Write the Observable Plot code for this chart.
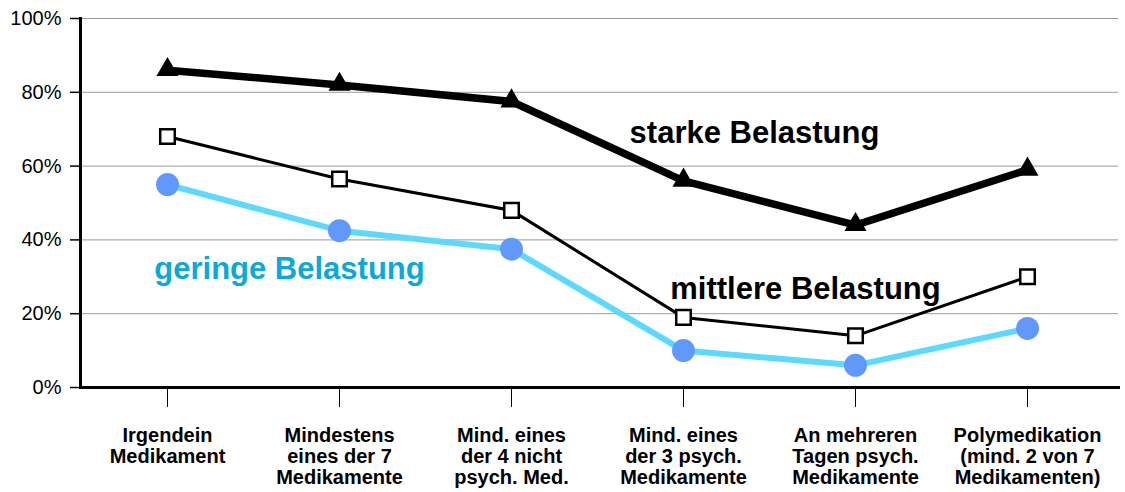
<!DOCTYPE html>
<html>
<head>
<meta charset="utf-8">
<script src="https://cdn.jsdelivr.net/npm/d3@7"></script>
<script src="https://cdn.jsdelivr.net/npm/@observablehq/plot@0.6"></script>
<style>
  html, body { margin: 0; padding: 0; background: #fff; }
  #chart svg { display: block; font-family: "Liberation Sans", Arial, sans-serif; }
</style>
</head>
<body>
<div id="chart"></div>
<script>
const categories = [
  "Irgendein\nMedikament",
  "Mindestens\neines der 7\nMedikamente",
  "Mind. eines\nder 4 nicht\npsych. Med.",
  "Mind. eines\nder 3 psych.\nMedikamente",
  "An mehreren\nTagen psych.\nMedikamente",
  "Polymedikation\n(mind. 2 von 7\nMedikamenten)"
];
const starke   = [86, 82, 77.5, 56, 44, 59];
const mittlere = [68, 56.5, 48, 19, 14, 30];
const geringe  = [55, 42.5, 37.5, 10, 6, 16];
const yTicks = [0, 20, 40, 60, 80, 100];
const seriesLabels = ["starke Belastung", "mittlere Belastung", "geringe Belastung"];

const toRows = (vals) => categories.map((c, i) => ({cat: c, v: vals[i]}));
const sRows = toRows(starke), mRows = toRows(mittlere), gRows = toRows(geringe);

const chart = Plot.plot({
  width: 1125,
  height: 492,
  marginLeft: 80,
  marginRight: 7,
  marginTop: 18,
  marginBottom: 105,
  style: {fontFamily: "'Liberation Sans', Arial, sans-serif", background: "#fff"},
  x: {type: "point", domain: categories, range: [165, 1028], padding: 0},
  y: {domain: [0, 100]},
  marks: [
    Plot.ruleY(yTicks.filter(d => d > 0), {stroke: "#9a9a9a", strokeWidth: 1}),
    Plot.axisY({ticks: yTicks, tickFormat: d => d + "%", tickSize: 10, tickPadding: 9,
      fontSize: 20, label: null, stroke: "#000", strokeWidth: 1.5, color: "#000"}),
    Plot.axisX({tickSize: 20, tickPadding: 19, fontSize: 20, fontWeight: "bold",
      lineHeight: 1.07, label: null, stroke: "#000", color: "#000", textAnchor: "middle"}),
    Plot.frame({anchor: "left", stroke: "#000", strokeWidth: 3}),
    Plot.frame({anchor: "bottom", stroke: "#000", strokeWidth: 3}),
    // geringe
    Plot.line(gRows, {x: "cat", y: "v", stroke: "#5cd9fe", strokeWidth: 6}),
    Plot.dot(gRows, {x: "cat", y: "v", r: 11.5, fill: "#6199fb", stroke: "none"}),
    // mittlere
    Plot.line(mRows, {x: "cat", y: "v", stroke: "#000", strokeWidth: 3}),
    Plot.dot(mRows, {x: "cat", y: "v", symbol: "square", r: 8.2, fill: "#fff", stroke: "#000", strokeWidth: 2.5}),
    // starke
    Plot.line(sRows, {x: "cat", y: "v", stroke: "#000", strokeWidth: 7.5}),
    Plot.dot(sRows, {x: "cat", y: "v", symbol: "triangle", r: 8.2, fill: "#000", stroke: "none", dy: -0.5}),
    // series labels
    Plot.text([seriesLabels[0]], {x: () => categories[3], y: () => 69, dx: 71, text: d => d,
      fontSize: 31, fontWeight: "bold", fill: "#000", textAnchor: "middle"}),
    Plot.text([seriesLabels[1]], {x: () => categories[4], y: () => 26.8, dx: -50, text: d => d,
      fontSize: 31, fontWeight: "bold", fill: "#000", textAnchor: "middle"}),
    Plot.text([seriesLabels[2]], {x: () => categories[0], y: () => 32.2, dx: 122, text: d => d,
      fontSize: 31, fontWeight: "bold", fill: "#0ba8da", textAnchor: "middle"})
  ]
});
document.getElementById("chart").appendChild(chart);
</script>
</body>
</html>
